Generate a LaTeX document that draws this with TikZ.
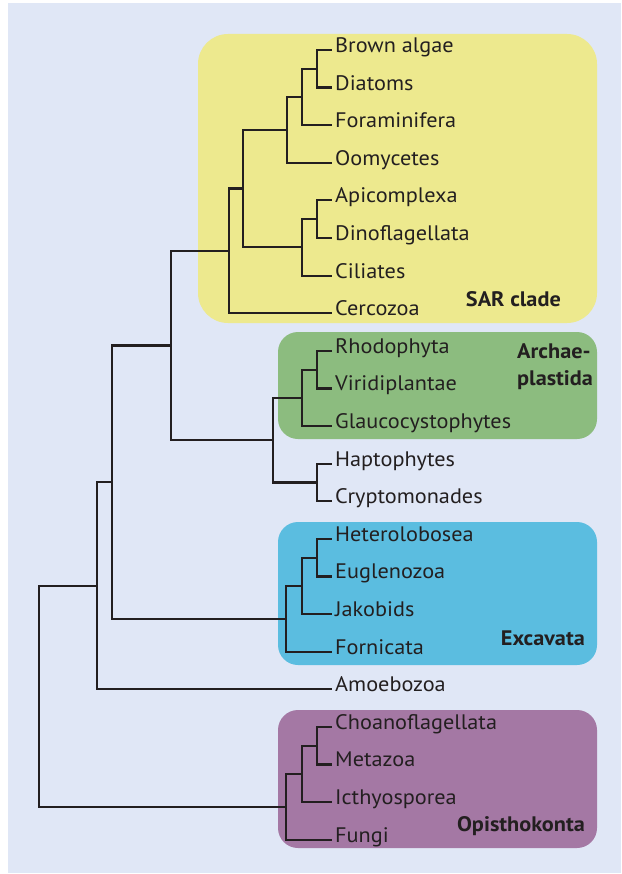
\documentclass[tikz,border=0pt]{standalone}
\usepackage{fontspec}
\setmainfont[FakeStretch=1.06]{PT Sans}

\definecolor{bgblue}{HTML}{E0E7F6}
\definecolor{sarfill}{HTML}{EDE98E}
\definecolor{archfill}{HTML}{8CBC7F}
\definecolor{excfill}{HTML}{5BBDE0}
\definecolor{opifill}{HTML}{A478A4}
\definecolor{ink}{HTML}{231F20}

\tikzset{
  leaf/.style={anchor=mid west, inner xsep=3pt, inner ysep=0pt, text=ink,
    font=\fontsize{21}{24}\selectfont},
  cladename/.style={inner sep=0pt, text=ink, align=left,
    font=\fontsize{21}{26.5}\selectfont\bfseries},
  branch/.style={draw=ink, line width=2.2pt},
}

\begin{document}
\begin{tikzpicture}[x=1pt, y=-1pt]
  \useasboundingbox (0,0) rectangle (621,874);
  \fill[bgblue] (8,3) rectangle (621,873);

  \fill[sarfill, rounded corners=30pt] (198,34) rectangle (597,323);
  \fill[archfill, rounded corners=20pt] (278,332) rectangle (597,439);
  \fill[excfill, rounded corners=20pt] (278,522) rectangle (597,665);
  \fill[opifill, rounded corners=20pt] (278,710) rectangle (597,848);

  \foreach \name/\txt [count=\i from 0] in {brown/Brown algae, diatoms/Diatoms,
      foram/Foraminifera, oomy/Oomycetes, apico/Apicomplexa, dino/Dinoflagellata,
      cili/Ciliates, cerco/Cercozoa, rhodo/Rhodophyta, viri/Viridiplantae,
      glauco/Glaucocystophytes, hapto/Haptophytes, crypto/Cryptomonades,
      hetero/Heterolobosea, eugl/Euglenozoa, jakob/Jakobids, forni/Fornicata,
      amoeb/Amoebozoa, choano/Choanoflagellata, metaz/Metazoa,
      icthy/Icthyosporea, fungi/Fungi}
    \node[leaf] (\name) at (332,{50+37.6*\i}) {\txt};

  \node[cladename, anchor=base east] (sarlab) at (561,306) {SAR clade};
  \node[cladename, anchor=base west] (archlab) at (517,385) {Archae-\\plastida};
  \node[cladename, anchor=base east] (exclab) at (585,645.7) {Excavata};
  \node[cladename, anchor=base east] (opilab) at (585,831.7) {Opisthokonta};

  \coordinate (brdi) at (317,68.8);
  \coordinate (brdifo) at (302,97);
  \coordinate (stram) at (287,129.9);
  \coordinate (apdi) at (317,219.2);
  \coordinate (alveo) at (302,247.4);
  \coordinate (sa) at (243,188.6);
  \coordinate (sar) at (229,250.9);
  \coordinate (rhvi) at (317,369.6);
  \coordinate (arch) at (302,397.8);
  \coordinate (hacr) at (317,482.4);
  \coordinate (archha) at (273,440.1);
  \coordinate (sarar) at (171,345.5);
  \coordinate (heeu) at (317,557.6);
  \coordinate (heeuja) at (302,585.8);
  \coordinate (exca) at (286,618.7);
  \coordinate (diaph) at (112,482.1);
  \coordinate (bikont) at (97,585.6);
  \coordinate (chme) at (317,745.6);
  \coordinate (holo) at (302,773.8);
  \coordinate (opis) at (286,806.7);
  \coordinate (root) at (39,696);

  \draw[branch] (brdi) |- (brown.mid west) (brdi) |- (diatoms.mid west);
  \draw[branch] (brdifo) |- (brdi) (brdifo) |- (foram.mid west);
  \draw[branch] (stram) |- (brdifo) (stram) |- (oomy.mid west);
  \draw[branch] (apdi) |- (apico.mid west) (apdi) |- (dino.mid west);
  \draw[branch] (alveo) |- (apdi) (alveo) |- (cili.mid west);
  \draw[branch] (sa) |- (stram) (sa) |- (alveo);
  \draw[branch] (sar) |- (sa) (sar) |- (cerco.mid west);
  \draw[branch] (rhvi) |- (rhodo.mid west) (rhvi) |- (viri.mid west);
  \draw[branch] (arch) |- (rhvi) (arch) |- (glauco.mid west);
  \draw[branch] (hacr) |- (hapto.mid west) (hacr) |- (crypto.mid west);
  \draw[branch] (archha) |- (arch) (archha) |- (hacr);
  \draw[branch] (sarar) |- (sar) (sarar) |- (archha);
  \draw[branch] (heeu) |- (hetero.mid west) (heeu) |- (eugl.mid west);
  \draw[branch] (heeuja) |- (heeu) (heeuja) |- (jakob.mid west);
  \draw[branch] (exca) |- (heeuja) (exca) |- (forni.mid west);
  \draw[branch] (diaph) |- (sarar) (diaph) |- (exca);
  \draw[branch] (bikont) |- (diaph) (bikont) |- (amoeb.mid west);
  \draw[branch] (chme) |- (choano.mid west) (chme) |- (metaz.mid west);
  \draw[branch] (holo) |- (chme) (holo) |- (icthy.mid west);
  \draw[branch] (opis) |- (holo) (opis) |- (fungi.mid west);
  \draw[branch] (root) |- (bikont) (root) |- (opis);
\end{tikzpicture}
\end{document}
